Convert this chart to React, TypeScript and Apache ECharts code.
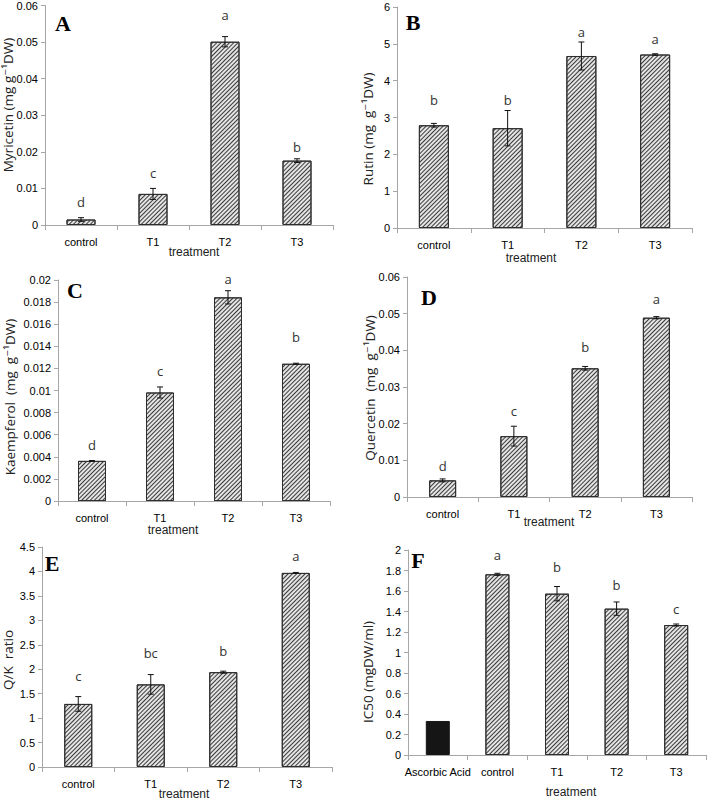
import React, { useEffect, useRef } from "react";
import * as echarts from "echarts";

// ---------- data ----------
const categories4 = ["control", "T1", "T2", "T3"];
const categoriesF = ["Ascorbic Acid", "control", "T1", "T2", "T3"];

const myricetin = [0.0015, 0.0085, 0.0501, 0.0176];
const myricetinErr = [0.0005, 0.0015, 0.0014, 0.0005];
const myricetinLetters = ["d", "c", "a", "b"];
const myricetinLetterY = [0.0064, 0.0141, 0.0573, 0.0214];

const rutin = [2.79, 2.71, 4.67, 4.71];
const rutinErr = [0.05, 0.48, 0.38, 0.02];
const rutinLetters = ["b", "b", "a", "a"];
const rutinLetterY = [3.47, 3.47, 5.32, 5.14];

const kaempferol = [0.00363, 0.00982, 0.01843, 0.01242];
const kaempferolErr = [0.00003, 0.0005, 0.0006, 0.00005];
const kaempferolLetters = ["d", "c", "a", "b"];
const kaempferolLetterY = [0.00504, 0.01175, 0.0201, 0.01486];

const quercetin = [0.00453, 0.0166, 0.0351, 0.0489];
const quercetinErr = [0.0004, 0.0027, 0.0005, 0.0003];
const quercetinLetters = ["d", "c", "b", "a"];
const quercetinLetterY = [0.00852, 0.02357, 0.041, 0.0541];

const qkRatio = [1.29, 1.69, 1.94, 3.97];
const qkRatioErr = [0.15, 0.2, 0.02, 0.01];
const qkRatioLetters = ["c", "bc", "b", "a"];
const qkRatioLetterY = [1.854, 2.33, 2.365, 4.31];

const ic50 = [0.332, 1.763, 1.574, 1.428, 1.268];
const ic50Err = [0, 0.01, 0.07, 0.065, 0.01];
const ic50Letters = ["", "a", "b", "b", "c"];
const ic50LetterY = [0, 1.951, 1.837, 1.659, 1.424];

// ---------- styling ----------
const NARROW = "'Liberation Sans', Arial, sans-serif";
const SANS = "'Open Sans', 'DejaVu Sans', sans-serif";
const SERIF = "'Liberation Serif', 'DejaVu Serif', serif";
const AXIS_GRAY = "#a6a6a6";

const hatch = {
  symbol: "rect",
  symbolSize: 1,
  color: "#3a3a3a",
  dashArrayX: [1, 0],
  dashArrayY: [1, 2],
  rotation: -Math.PI / 4,
};

type Panel = {
  cats: string[];
  values: number[];
  err: number[];
  letters: string[];
  letterY: number[];
  max: number;
  interval: number;
  grid: { left: number; top: number; width: number; height: number };
  barWidth: number;
  yTitle: string;
  yTitlePos: [number, number];
  xTitlePos: [number, number];
  tag: string;
  tagPos: [number, number];
  blackFirst?: boolean;
};

const panels: Panel[] = [
  {
    cats: categories4, values: myricetin, err: myricetinErr, letters: myricetinLetters, letterY: myricetinLetterY,
    max: 0.06, interval: 0.01, grid: { left: 45, top: 5, width: 288, height: 220 }, barWidth: 29,
    yTitle: "Myricetin (mg g\u207B\u00B9DW)", yTitlePos: [8, 105], xTitlePos: [194, 252], tag: "A", tagPos: [63, 23],
  },
  {
    cats: categories4, values: rutin, err: rutinErr, letters: rutinLetters, letterY: rutinLetterY,
    max: 6, interval: 1, grid: { left: 397, top: 7, width: 295, height: 221 }, barWidth: 30,
    yTitle: "Rutin (mg  g\u207B\u00B9DW)", yTitlePos: [368, 129], xTitlePos: [531, 258], tag: "B", tagPos: [413, 22],
  },
  {
    cats: categories4, values: kaempferol, err: kaempferolErr, letters: kaempferolLetters, letterY: kaempferolLetterY,
    max: 0.02, interval: 0.002, grid: { left: 58, top: 280, width: 272, height: 221 }, barWidth: 28,
    yTitle: "Kaempferol  (mg  g\u207B\u00B9DW)", yTitlePos: [10, 397], xTitlePos: [173, 530], tag: "C", tagPos: [75, 290],
  },
  {
    cats: categories4, values: quercetin, err: quercetinErr, letters: quercetinLetters, letterY: quercetinLetterY,
    max: 0.06, interval: 0.01, grid: { left: 407, top: 277, width: 285, height: 220 }, barWidth: 27,
    yTitle: "Quercetin  (mg  g\u207B\u00B9DW)", yTitlePos: [370, 388], xTitlePos: [549, 522], tag: "D", tagPos: [429, 297],
  },
  {
    cats: categories4, values: qkRatio, err: qkRatioErr, letters: qkRatioLetters, letterY: qkRatioLetterY,
    max: 4.5, interval: 0.5, grid: { left: 42, top: 547, width: 290, height: 220 }, barWidth: 28,
    yTitle: "Q/K  ratio", yTitlePos: [8, 660], xTitlePos: [184, 794], tag: "E", tagPos: [52, 563],
  },
  {
    cats: categoriesF, values: ic50, err: ic50Err, letters: ic50Letters, letterY: ic50LetterY,
    max: 2, interval: 0.2, grid: { left: 408, top: 550, width: 298, height: 205 }, barWidth: 24,
    yTitle: "IC50 (mgDW/ml)", yTitlePos: [368, 672], xTitlePos: [571, 792], tag: "F", tagPos: [418, 560],
    blackFirst: true,
  },
];

function buildOption() {
  const grid: any[] = [];
  const xAxis: any[] = [];
  const yAxis: any[] = [];
  const series: any[] = [];
  const graphic: any[] = [];

  panels.forEach((p, k) => {
    grid.push({ ...p.grid, containLabel: false });
    xAxis.push({
      type: "category",
      gridIndex: k,
      data: p.cats,
      axisLine: { show: true, lineStyle: { color: AXIS_GRAY, width: 1 } },
      axisTick: { show: true, length: 5, lineStyle: { color: AXIS_GRAY } },
      axisLabel: { color: "#000", fontFamily: NARROW, fontSize: 11, margin: 11, interval: 0 },
      splitLine: { show: false },
    });
    yAxis.push({
      type: "value",
      gridIndex: k,
      min: 0,
      max: p.max,
      interval: p.interval,
      axisLine: { show: true, lineStyle: { color: AXIS_GRAY, width: 1 } },
      axisTick: { show: true, length: 4, lineStyle: { color: AXIS_GRAY } },
      axisLabel: { color: "#000", fontFamily: NARROW, fontSize: 11, margin: 7 },
      splitLine: { show: false },
    });

    series.push({
      type: "bar",
      xAxisIndex: k,
      yAxisIndex: k,
      barWidth: p.barWidth,
      data: p.values.map((v, i) =>
        p.blackFirst && i === 0
          ? { value: v, itemStyle: { color: "#151515", borderColor: "#151515", decal: "none" } }
          : v
      ),
      itemStyle: { color: "#e4e4e4", borderColor: "#2e2e2e", borderWidth: 1, decal: hatch },
    });

    const errData = p.values.map((v, i) => [i, v, p.err[i]]);
    series.push({
      type: "custom",
      xAxisIndex: k,
      yAxisIndex: k,
      data: errData,
      z: 5,
      clip: false,
      renderItem: (params: any, api: any) => {
        const i = api.value(0);
        const v = api.value(1);
        const e = api.value(2);
        if (!e) return null;
        const top = api.coord([i, v + e]);
        const bot = api.coord([i, v - e]);
        const cx = top[0];
        const st = { stroke: "#111", lineWidth: 1 };
        return {
          type: "group",
          children: [
            { type: "line", shape: { x1: cx, y1: top[1], x2: cx, y2: bot[1] }, style: st },
            { type: "line", shape: { x1: cx - 3, y1: top[1], x2: cx + 3, y2: top[1] }, style: st },
            { type: "line", shape: { x1: cx - 3, y1: bot[1], x2: cx + 3, y2: bot[1] }, style: st },
          ],
        };
      },
    });

    const letterData = p.letterY.map((y, i) => [i, y]);
    series.push({
      type: "custom",
      xAxisIndex: k,
      yAxisIndex: k,
      data: letterData,
      z: 6,
      clip: false,
      renderItem: (params: any, api: any) => {
        const txt = p.letters[params.dataIndex];
        if (!txt) return null;
        const pt = api.coord([api.value(0), api.value(1)]);
        return {
          type: "text",
          x: pt[0],
          y: pt[1],
          style: {
            text: txt,
            fill: "#333",
            fontSize: 13,
            fontFamily: SANS,
            textAlign: "center",
            textVerticalAlign: "middle",
            align: "center",
            verticalAlign: "middle",
          },
        };
      },
    });

    graphic.push({
      type: "text",
      x: p.yTitlePos[0],
      y: p.yTitlePos[1],
      rotation: Math.PI / 2,
      style: {
        text: p.yTitle,
        fill: "#222",
        fontSize: 13.5,
        fontFamily: SANS,
        textAlign: "center",
        textVerticalAlign: "middle",
      },
    });
    graphic.push({
      type: "text",
      x: p.xTitlePos[0],
      y: p.xTitlePos[1],
      style: {
        text: "treatment",
        fill: "#222",
        fontSize: 12,
        fontFamily: NARROW,
        textAlign: "center",
        textVerticalAlign: "middle",
      },
    });
    graphic.push({
      type: "text",
      x: p.tagPos[0],
      y: p.tagPos[1],
      style: {
        text: p.tag,
        fill: "#000",
        fontSize: 22,
        fontWeight: "bold",
        fontFamily: SERIF,
        textAlign: "center",
        textVerticalAlign: "middle",
      },
    });
  });

  return {
    animation: false,
    backgroundColor: "#ffffff",
    grid,
    xAxis,
    yAxis,
    series,
    graphic,
  };
}

export default function App() {
  const ref = useRef<HTMLDivElement>(null);
  useEffect(() => {
    if (!ref.current) return;
    const chart = echarts.init(ref.current, null, { renderer: "svg" });
    chart.setOption(buildOption() as any);
    return () => chart.dispose();
  }, []);
  return (
    <div
      ref={ref}
      style={{ position: "absolute", left: 0, top: 0, width: 708, height: 801, background: "#fff" }}
    />
  );
}
